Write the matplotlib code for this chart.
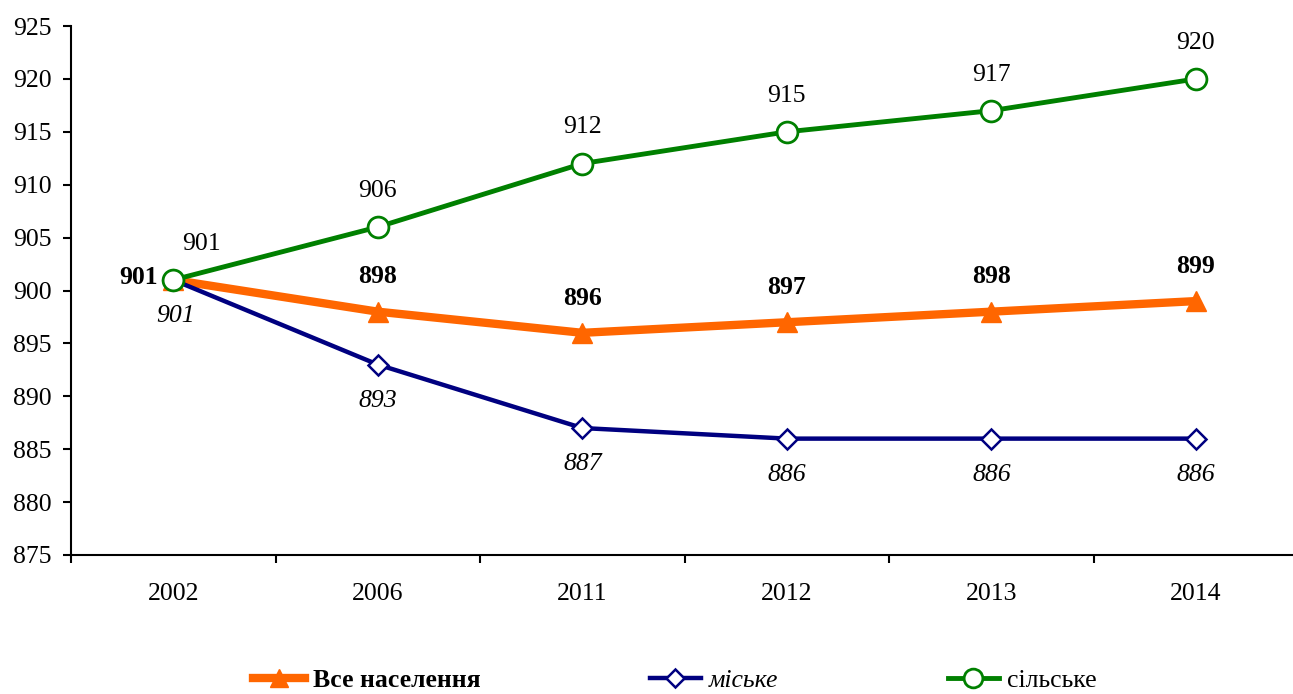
import numpy as np
from matplotlib import pyplot as plt

years = ['2002', '2006', '2011', '2012', '2013', '2014']
all_pop = [901, 898, 896, 897, 898, 899]
urban = [901, 893, 887, 886, 886, 886]
rural = [901, 906, 912, 915, 917, 920]

plt.rcParams['font.family'] = ['Liberation Serif', 'DejaVu Serif']
plt.rcParams['font.size'] = 18.5

fig = plt.figure(figsize=(12.93, 6.94), dpi=100)
ax = fig.add_axes([0.0549, 0.2003, 0.9491, 0.7622])

x = np.arange(len(years))
h1, = ax.plot(x, all_pop, color='#FF6600', lw=6, marker='^', ms=15,
              mfc='#FF6600', mec='#FF6600', zorder=3, label='Все населення')
h2, = ax.plot(x, urban, color='#000080', lw=3.2, marker='D', ms=10,
              mfc='white', mec='#000080', mew=1.8, zorder=3, label='міське')
h3, = ax.plot(x, rural, color='#008000', lw=3.5, marker='o', ms=15,
              mfc='white', mec='#008000', mew=2, zorder=4, label='сільське')

for i, v in enumerate(rural):
    dx = 20 if i == 0 else 0
    ax.annotate(str(v), (x[i], v), xytext=(dx, 26), textcoords='offset points',
                ha='center', va='center')
for i, v in enumerate(all_pop):
    if i == 0:
        ax.annotate(str(v), (x[i], v), xytext=(-25, 2), textcoords='offset points',
                    ha='center', va='center', fontweight='bold')
    else:
        ax.annotate(str(v), (x[i], v), xytext=(0, 25), textcoords='offset points',
                    ha='center', va='center', fontweight='bold')
for i, v in enumerate(urban):
    dx = 2 if i == 0 else 0
    ax.annotate(str(v), (x[i], v), xytext=(dx, -26), textcoords='offset points',
                ha='center', va='center', fontstyle='italic')

ax.set_xlim(-0.5, 5.5)
ax.set_ylim(875, 925)
ax.set_yticks(np.arange(875, 926, 5))
ax.set_xticks(x)
ax.set_xticklabels(years)
ax.set_xticks(np.arange(-0.5, 5.6, 1), minor=True)
ax.tick_params(axis='x', which='major', length=0, pad=20)
ax.tick_params(axis='x', which='minor', length=6, width=1.5, direction='out')
ax.tick_params(axis='y', length=6, width=1.5, direction='out', pad=8)
for s in ['top', 'right']:
    ax.spines[s].set_visible(False)
ax.spines['left'].set_linewidth(1.5)
ax.spines['bottom'].set_linewidth(1.5)

leg = fig.legend(handles=[h1, h2, h3], loc='lower center', ncol=3,
                 bbox_to_anchor=(0.522, -0.03), frameon=False, fontsize=18.5,
                 handlelength=2.0, columnspacing=6.6, handletextpad=0.3,
                 markerscale=0.9)
texts = leg.get_texts()
texts[0].set_fontweight('bold')
texts[1].set_fontstyle('italic')

fig.savefig('out.png', dpi=100)
